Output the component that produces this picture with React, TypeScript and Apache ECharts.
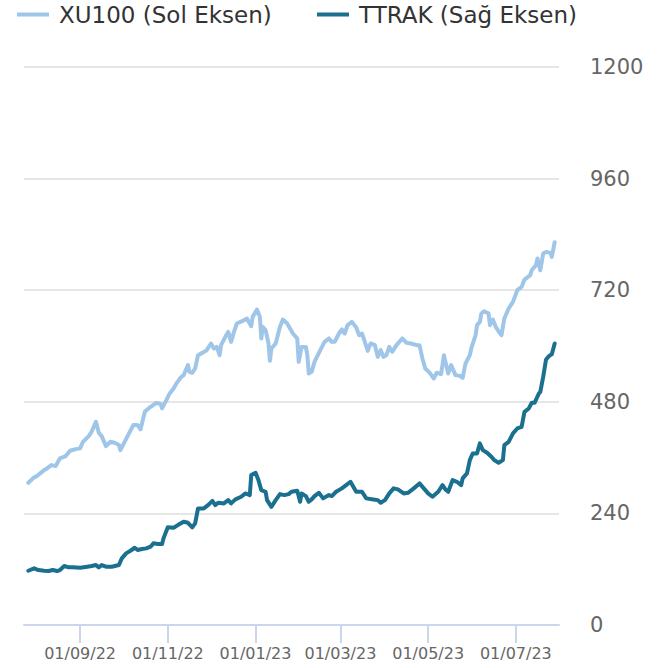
import React, { useEffect, useRef } from "react";
import * as echarts from "echarts";

// Axis range (calendar days) and tick labels
const AXIS_START = "2022-07-24";
const AXIS_END = "2023-07-31";
const RIGHT_TICKS = [0, 240, 480, 720, 960, 1200];

const SERIES_NAMES = ["XU100 (Sol Eksen)", "TTRAK (Sağ Eksen)"];

// XU100 (left axis, hidden)
const xu100: [string, number][] = [
  ["2022-07-27", 2549], ["2022-07-31", 2645], ["2022-08-02", 2669], ["2022-08-07", 2776],
  ["2022-08-09", 2806], ["2022-08-12", 2866], ["2022-08-15", 2848], ["2022-08-18", 2986],
  ["2022-08-22", 3027], ["2022-08-25", 3122], ["2022-08-29", 3152], ["2022-09-01", 3165],
  ["2022-09-03", 3283], ["2022-09-07", 3385], ["2022-09-09", 3462], ["2022-09-12", 3641],
  ["2022-09-14", 3444], ["2022-09-16", 3385], ["2022-09-19", 3206], ["2022-09-22", 3283],
  ["2022-09-25", 3265], ["2022-09-28", 3224], ["2022-09-29", 3134], ["2022-10-02", 3283],
  ["2022-10-05", 3433], ["2022-10-08", 3582], ["2022-10-11", 3582], ["2022-10-13", 3505],
  ["2022-10-16", 3820], ["2022-10-20", 3910], ["2022-10-24", 3981], ["2022-10-27", 3958],
  ["2022-10-28", 3881], ["2022-10-31", 4030], ["2022-11-02", 4137], ["2022-11-05", 4239],
  ["2022-11-07", 4329], ["2022-11-10", 4436], ["2022-11-12", 4478], ["2022-11-15", 4657],
  ["2022-11-16", 4537], ["2022-11-18", 4519], ["2022-11-20", 4597], ["2022-11-22", 4836],
  ["2022-11-25", 4877], ["2022-11-28", 4925], ["2022-12-01", 5045], ["2022-12-03", 4956],
  ["2022-12-05", 4984], ["2022-12-07", 4836], ["2022-12-08", 5015], ["2022-12-11", 5164],
  ["2022-12-13", 5253], ["2022-12-15", 5074], ["2022-12-17", 5253], ["2022-12-19", 5403],
  ["2022-12-23", 5450], ["2022-12-26", 5493], ["2022-12-29", 5355], ["2022-12-30", 5522],
  ["2023-01-02", 5654], ["2023-01-04", 5522], ["2023-01-05", 5135], ["2023-01-06", 5343],
  ["2023-01-08", 5283], ["2023-01-10", 5045], ["2023-01-11", 4734], ["2023-01-12", 4956],
  ["2023-01-15", 5045], ["2023-01-18", 5343], ["2023-01-20", 5475], ["2023-01-23", 5403],
  ["2023-01-27", 5224], ["2023-01-30", 5135], ["2023-01-31", 4716], ["2023-02-02", 4984],
  ["2023-02-05", 4984], ["2023-02-06", 4836], ["2023-02-07", 4508], ["2023-02-09", 4537],
  ["2023-02-11", 4716], ["2023-02-15", 4925], ["2023-02-18", 5074], ["2023-02-21", 5135],
  ["2023-02-23", 5074], ["2023-02-25", 5074], ["2023-02-28", 5224], ["2023-03-02", 5296],
  ["2023-03-04", 5224], ["2023-03-06", 5373], ["2023-03-09", 5432], ["2023-03-12", 5332],
  ["2023-03-14", 5194], ["2023-03-16", 5224], ["2023-03-18", 5074], ["2023-03-20", 4913],
  ["2023-03-22", 5045], ["2023-03-25", 5015], ["2023-03-27", 4805], ["2023-03-29", 4925],
  ["2023-03-31", 4805], ["2023-04-02", 4836], ["2023-04-04", 4984], ["2023-04-06", 4895],
  ["2023-04-09", 5015], ["2023-04-13", 5135], ["2023-04-16", 5056], ["2023-04-19", 5045],
  ["2023-04-23", 5015], ["2023-04-25", 5015], ["2023-04-27", 4777], ["2023-04-29", 4597],
  ["2023-05-02", 4522], ["2023-05-05", 4418], ["2023-05-07", 4522], ["2023-05-10", 4495],
  ["2023-05-12", 4836], ["2023-05-13", 4716], ["2023-05-15", 4508], ["2023-05-17", 4657],
  ["2023-05-20", 4478], ["2023-05-23", 4465], ["2023-05-25", 4429], ["2023-05-27", 4687],
  ["2023-05-30", 4836], ["2023-05-31", 4956], ["2023-06-03", 5194], ["2023-06-04", 5373],
  ["2023-06-06", 5432], ["2023-06-07", 5582], ["2023-06-09", 5624], ["2023-06-12", 5582],
  ["2023-06-13", 5373], ["2023-06-15", 5475], ["2023-06-17", 5343], ["2023-06-20", 5224],
  ["2023-06-21", 5194], ["2023-06-23", 5493], ["2023-06-26", 5672], ["2023-06-29", 5790],
  ["2023-07-02", 6000], ["2023-07-05", 6059], ["2023-07-07", 6191], ["2023-07-11", 6269],
  ["2023-07-12", 6358], ["2023-07-15", 6448], ["2023-07-16", 6568], ["2023-07-18", 6358],
  ["2023-07-20", 6657], ["2023-07-22", 6686], ["2023-07-25", 6668], ["2023-07-26", 6596],
  ["2023-07-28", 6860],
];

// TTRAK (right axis)
const ttrak: [string, number][] = [
  ["2022-07-27", 116.7], ["2022-07-31", 121.9], ["2022-08-03", 118.2], ["2022-08-07", 116.7],
  ["2022-08-10", 116.0], ["2022-08-13", 118.2], ["2022-08-16", 116.0], ["2022-08-18", 118.2],
  ["2022-08-21", 126.8], ["2022-08-24", 124.0], ["2022-08-27", 124.0], ["2022-09-01", 123.1],
  ["2022-09-06", 125.3], ["2022-09-09", 126.8], ["2022-09-12", 128.9], ["2022-09-14", 124.0],
  ["2022-09-16", 128.9], ["2022-09-19", 125.3], ["2022-09-23", 125.3], ["2022-09-28", 128.9],
  ["2022-09-30", 143.3], ["2022-10-03", 154.1], ["2022-10-06", 159.7], ["2022-10-09", 166.1],
  ["2022-10-11", 161.2], ["2022-10-14", 163.3], ["2022-10-17", 164.8], ["2022-10-20", 168.3],
  ["2022-10-22", 175.6], ["2022-10-25", 174.1], ["2022-10-28", 174.1], ["2022-10-29", 186.3],
  ["2022-11-01", 210.0], ["2022-11-05", 209.1], ["2022-11-08", 214.9], ["2022-11-12", 222.0],
  ["2022-11-15", 219.8], ["2022-11-18", 210.0], ["2022-11-20", 218.6], ["2022-11-22", 250.8],
  ["2022-11-26", 250.8], ["2022-11-29", 257.9], ["2022-12-02", 267.1], ["2022-12-04", 257.9],
  ["2022-12-06", 262.8], ["2022-12-10", 261.5], ["2022-12-13", 268.6], ["2022-12-15", 261.5],
  ["2022-12-18", 270.1], ["2022-12-22", 275.7], ["2022-12-25", 283.0], ["2022-12-28", 279.4],
  ["2022-12-29", 322.4], ["2023-01-01", 327.3], ["2023-01-03", 311.6], ["2023-01-05", 290.1],
  ["2023-01-08", 286.5], ["2023-01-09", 268.6], ["2023-01-12", 254.2], ["2023-01-15", 268.6],
  ["2023-01-18", 281.5], ["2023-01-21", 279.4], ["2023-01-24", 281.5], ["2023-01-26", 286.5],
  ["2023-01-30", 288.6], ["2023-02-01", 265.0], ["2023-02-02", 283.0], ["2023-02-05", 277.2],
  ["2023-02-07", 265.0], ["2023-02-09", 270.1], ["2023-02-11", 277.2], ["2023-02-14", 284.3],
  ["2023-02-17", 272.3], ["2023-02-21", 279.4], ["2023-02-23", 277.2], ["2023-02-26", 286.5],
  ["2023-03-02", 293.8], ["2023-03-05", 300.9], ["2023-03-08", 308.0], ["2023-03-10", 297.2],
  ["2023-03-12", 286.5], ["2023-03-16", 286.5], ["2023-03-19", 272.3], ["2023-03-24", 270.1],
  ["2023-03-27", 268.6], ["2023-03-29", 262.8], ["2023-04-01", 268.6], ["2023-04-04", 283.0],
  ["2023-04-07", 293.8], ["2023-04-10", 291.6], ["2023-04-14", 283.0], ["2023-04-17", 284.3],
  ["2023-04-21", 293.8], ["2023-04-25", 304.5], ["2023-04-28", 293.8], ["2023-05-01", 283.0],
  ["2023-05-04", 275.7], ["2023-05-08", 286.5], ["2023-05-11", 300.9], ["2023-05-13", 291.6],
  ["2023-05-15", 286.5], ["2023-05-18", 311.6], ["2023-05-21", 308.0], ["2023-05-24", 300.9],
  ["2023-05-25", 315.3], ["2023-05-28", 326.0], ["2023-05-30", 354.6], ["2023-06-01", 369.0],
  ["2023-06-04", 369.0], ["2023-06-06", 390.5], ["2023-06-08", 376.1], ["2023-06-11", 370.3],
  ["2023-06-14", 361.7], ["2023-06-16", 354.6], ["2023-06-19", 348.8], ["2023-06-22", 354.6],
  ["2023-06-23", 386.8], ["2023-06-26", 393.9], ["2023-06-29", 412.0], ["2023-07-02", 422.7],
  ["2023-07-05", 426.1], ["2023-07-07", 458.4], ["2023-07-10", 465.7], ["2023-07-12", 477.7],
  ["2023-07-14", 477.7], ["2023-07-17", 497.9], ["2023-07-18", 501.4], ["2023-07-20", 533.6],
  ["2023-07-22", 571.0], ["2023-07-24", 578.1], ["2023-07-26", 582.4], ["2023-07-28", 605.4],
];

const COLORS = ["#9fc5e8", "#1b6f8f"];
const FONT = "DejaVu Sans";

function buildCategories(): string[] {
  const out: string[] = [];
  const [sy, sm, sd] = AXIS_START.split("-").map(Number);
  const [ey, em, ed] = AXIS_END.split("-").map(Number);
  const end = Date.UTC(ey, em - 1, ed);
  for (let t = Date.UTC(sy, sm - 1, sd); t <= end; t += 86400000) {
    out.push(new Date(t).toISOString().slice(0, 10));
  }
  return out;
}

export default function App() {
  const ref = useRef<HTMLDivElement>(null);

  useEffect(() => {
    if (!ref.current) return;
    const chart = echarts.init(ref.current, null, { renderer: "svg" });
    const categories = buildCategories();
    const idx = new Map<string, number>();
    categories.forEach((c, i) => idx.set(c, i));
    const toData = (arr: [string, number][]) => arr.map(([d, v]) => [idx.get(d), v]);

    const isTick = (_i: number, value: string) => {
      const parts = String(value).split("-");
      return parts[2] === "01" && Number(parts[1]) % 2 === 1;
    };

    const legendBase = {
      top: -2,
      itemWidth: 32,
      itemHeight: 4,
      icon: "rect",
      textStyle: { fontFamily: FONT, fontSize: 23, color: "#333333", padding: [0, 0, 0, 5] },
      selectedMode: false,
    };

    chart.setOption({
      animation: false,
      color: COLORS,
      legend: [
        { ...legendBase, left: 12, data: [SERIES_NAMES[0]] },
        { ...legendBase, left: 312, data: [SERIES_NAMES[1]] },
      ],
      grid: { left: 24, right: 98, top: 67, bottom: 43, containLabel: false, outerBoundsMode: "none" },
      xAxis: {
        type: "category",
        data: categories,
        boundaryGap: false,
        axisLine: { show: true, lineStyle: { color: "#ccd6eb", width: 2 } },
        axisTick: { show: true, interval: isTick, length: 18, lineStyle: { color: "#ccd6eb", width: 2 } },
        axisLabel: {
          interval: isTick,
          margin: 20,
          fontFamily: FONT,
          fontSize: 16,
          color: "#666666",
          formatter: (v: string) => {
            const [y, m, d] = v.split("-");
            return `${d}/${m}/${y.slice(2)}`;
          },
        },
        splitLine: { show: false },
      },
      yAxis: [
        {
          type: "value",
          position: "left",
          min: 0,
          max: 10000,
          show: false,
          splitLine: { show: false },
        },
        {
          type: "value",
          position: "right",
          min: RIGHT_TICKS[0],
          max: RIGHT_TICKS[RIGHT_TICKS.length - 1],
          interval: RIGHT_TICKS[1] - RIGHT_TICKS[0],
          axisLine: { show: false },
          axisTick: { show: false },
          axisLabel: {
            margin: 31,
            fontFamily: FONT,
            fontSize: 21,
            color: "#666666",
            align: "left",
            formatter: (v: number) => String(v),
          },
          splitLine: { show: true, lineStyle: { color: "#e6e6e6", width: 2 } },
        },
      ],
      series: [
        {
          name: SERIES_NAMES[0],
          type: "line",
          yAxisIndex: 0,
          data: toData(xu100),
          showSymbol: false,
          symbol: "none",
          lineStyle: { width: 4, color: COLORS[0], join: "round", cap: "round" },
          z: 2,
        },
        {
          name: SERIES_NAMES[1],
          type: "line",
          yAxisIndex: 1,
          data: toData(ttrak),
          showSymbol: false,
          symbol: "none",
          lineStyle: { width: 4, color: COLORS[1], join: "round", cap: "round" },
          z: 3,
        },
      ],
    });
    return () => chart.dispose();
  }, []);

  return (
    <div
      ref={ref}
      style={{ position: "fixed", left: 0, top: 0, width: 657, height: 668, background: "#ffffff" }}
    />
  );
}
